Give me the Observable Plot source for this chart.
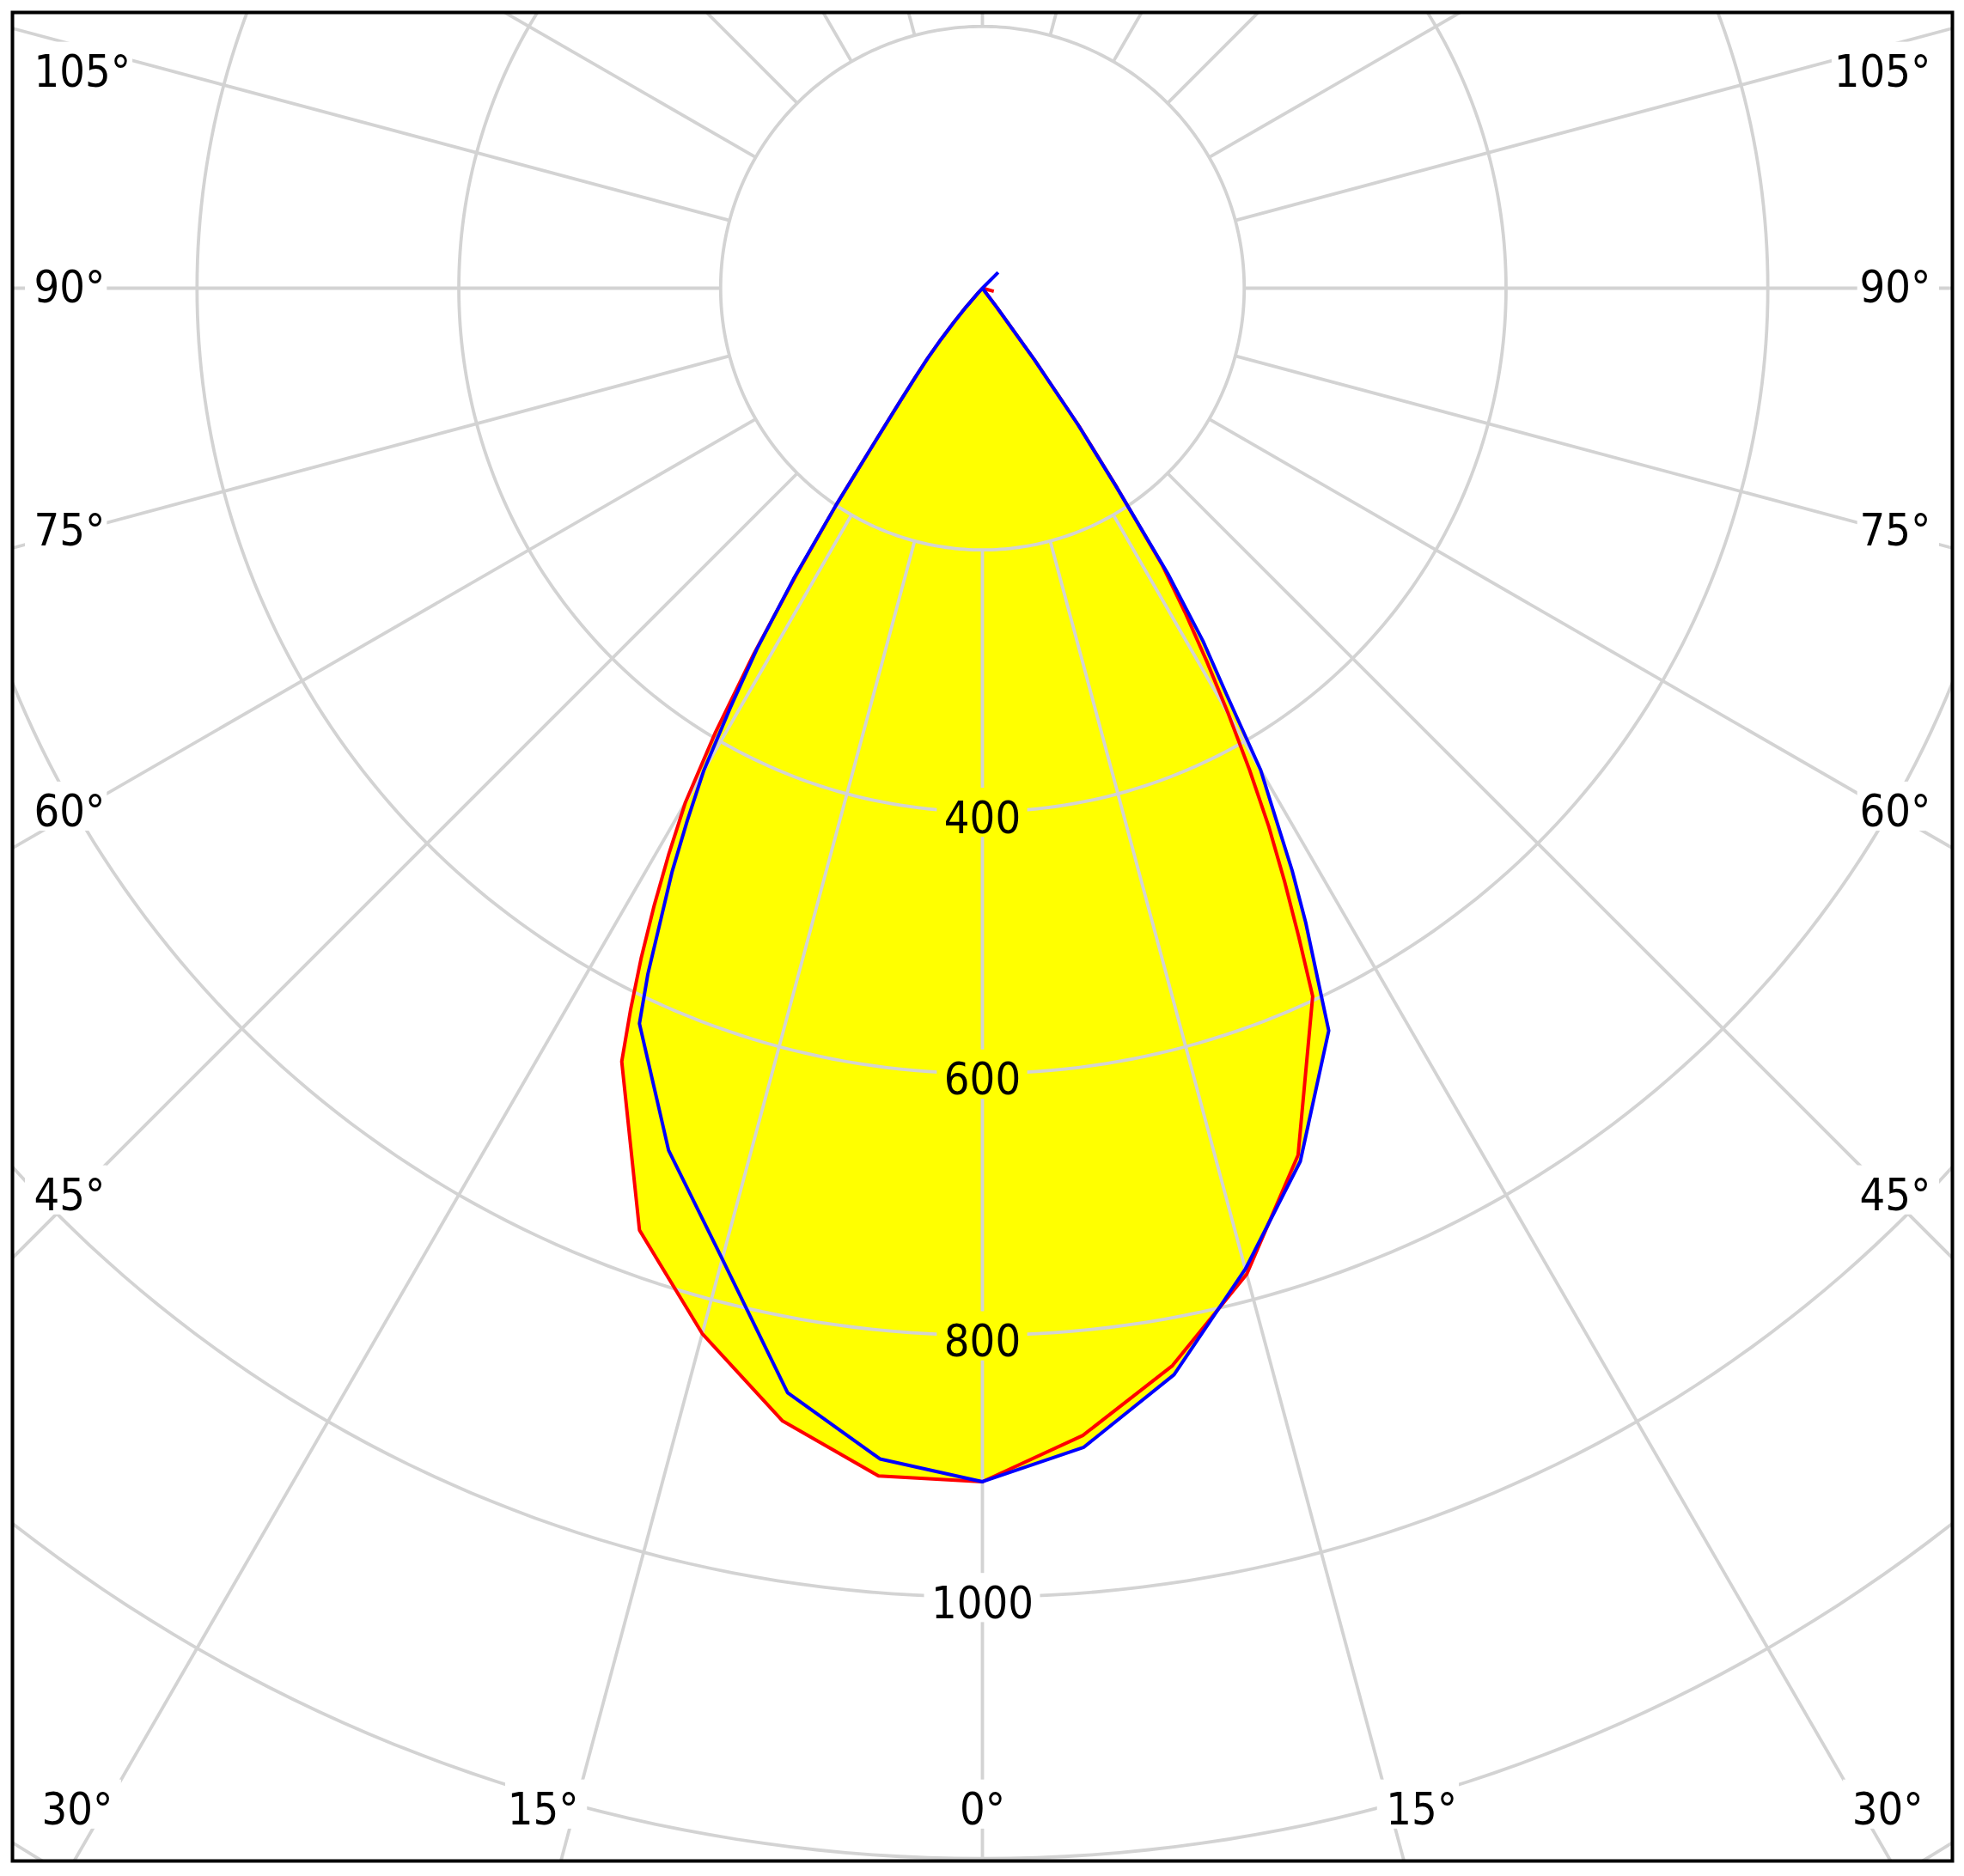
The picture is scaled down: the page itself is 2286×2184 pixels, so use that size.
<!DOCTYPE html>
<html>
<head>
<meta charset="utf-8">
<script src="https://cdn.jsdelivr.net/npm/d3@7"></script>
<script src="https://cdn.jsdelivr.net/npm/@observablehq/plot@0.6"></script>
<style>
  html, body { margin: 0; padding: 0; background: #fff; }
  #chart svg { display: block; }
</style>
</head>
<body>
<div id="chart"></div>
<script>
// ---- Data: luminous intensity (cd) per gamma angle (deg) ----
const gamma = [0,5,10,15,20,25,26,27,28,29,30,31,32,33,34,35,36,37,38,39,40,41,42,43,44,45,
  50,55,60,65,70,75,80,85,90,95,100,105,110,115,120,125,130,135,140,145,150,155,160,165,170,175,180];

// red curve, right half (C0) and left half (C180)
const C0 = [912,880,836,780,705,597,551,508,466,421,376,333,292,252,184,129,67,16,0,0,0,0,0,0,0,0,
  0,0,0,0,0,9,0,0,0,0,0,0,0,0,0,0,0,0,0,0,0,0,0,0,0,0,0];
const C180 = [912,911,879,827,766,652,613,574,534,494,454,396,330,261,200,142,108,85,68,50,34,19,5,0,0,0,
  0,0,0,0,0,0,0,0,0,0,0,0,0,0,0,0,0,0,0,0,0,0,0,0,0,0,0];
// blue curve, right half (C90) and left half (C270)
const C90 = [912,889,843,776,710,626,582,544,504,461,425,362,318,260,182,127,68,19,0,0,0,0,0,0,0,0,
  0,0,0,0,0,0,0,0,0,0,0,0,0,0,0,0,0,17,0,0,0,0,0,0,0,0,0];
const C270 = [912,898,857,768,701,620,583,541,505,465,426,374,325,265,200,142,108,85,68,50,34,19,5,0,0,0,
  0,0,0,0,0,0,0,0,0,0,0,0,0,0,0,0,0,0,0,0,0,0,0,0,0,0,0];

const ringValues = [200,400,600,800,1000,1200,1400];
const ringLabelValues = [400,600,800,1000];
const spokeAngles = d3.range(-165, 181, 15);
const sideLabelAngles = [45,60,75,90,105];
const bottomLabelAngles = [-30,-15,0,15,30];

// ---- Layout ----
const W = 2286, H = 2184;
const mL = 14, mR = 14, mT = 14, mB = 18;
const xDom = [-741, 741];
const yDom = [-210.7, 1201.8];
const k = (W - mL - mR) / (xDom[1] - xDom[0]); // px per cd
const FS = 52;
const FONT = "'DejaVu Sans Condensed', 'Liberation Sans', sans-serif";
const rad = d => d * Math.PI / 180;

function polygon(right, left) {
  const pts = [];
  gamma.forEach((g, i) => pts.push({x: right[i] * Math.sin(rad(g)), y: right[i] * Math.cos(rad(g))}));
  for (let i = gamma.length - 1; i >= 0; i--) {
    const g = gamma[i];
    pts.push({x: -left[i] * Math.sin(rad(g)), y: left[i] * Math.cos(rad(g))});
  }
  return pts;
}
const redPts = polygon(C0, C180);
const bluePts = polygon(C90, C270);

const ringPts = [];
for (const r of ringValues) for (let t = 0; t <= 360; t += 1)
  ringPts.push({r, x: r * Math.sin(rad(t)), y: r * Math.cos(rad(t))});
const spokes = spokeAngles.map(a => ({
  x1: 200 * Math.sin(rad(a)), y1: 200 * Math.cos(rad(a)),
  x2: 1600 * Math.sin(rad(a)), y2: 1600 * Math.cos(rad(a))
}));

// labels
const labels = [];
const xLine = xDom[1] - 72 / k;
for (const a of sideLabelAngles) {
  let y = xLine * Math.cos(rad(a)) / Math.sin(rad(a));
  y = Math.max(y, yDom[0] + 70 / k);
  labels.push({text: a + "°", x: xDom[0] + 25 / k, y, anchor: "start", box: "white"});
  labels.push({text: a + "°", x: xDom[1] - 25 / k, y, anchor: "end", box: "white"});
}
const yLine = yDom[1] - 78 / k;
for (const a of bottomLabelAngles) {
  labels.push({text: Math.abs(a) + "°", x: yLine * Math.tan(rad(a)), y: yDom[1] - 59 / k,
    anchor: a < 0 ? "end" : a > 0 ? "start" : "middle", box: "white"});
}
for (const v of ringLabelValues) {
  labels.push({text: String(v), x: 0, y: v + 8 / k, anchor: "middle", box: v < C0[0] ? "yellow" : "white"});
}
// label boxes (hide grid behind text)
for (const L of labels) {
  let w = 0;
  for (const ch of L.text) w += (ch === "°" ? 0.42 : 0.572) * FS;
  const xp = L.x * k;
  let a0, a1;
  if (L.anchor === "start") { a0 = xp - 10; a1 = xp + w + 4; }
  else if (L.anchor === "end") { a0 = xp - w - 4; a1 = xp + 10; }
  else { a0 = xp - w / 2 - 8; a1 = xp + w / 2 + 8; }
  L.x1 = a0 / k; L.x2 = a1 / k;
  L.y1 = L.y - 0.68 * FS / k; L.y2 = L.y + 0.42 * FS / k;
}

const grey = "#d3d3d3";
const textOpts = anchor => ({
  x: "x", y: "y", text: "text", textAnchor: anchor, lineAnchor: "middle",
  fontSize: FS, fontFamily: FONT, fill: "black"
});

const chart = Plot.plot({
  width: W, height: H,
  marginLeft: mL, marginRight: mR, marginTop: mT, marginBottom: mB,
  x: {domain: xDom, axis: null},
  y: {domain: [yDom[1], yDom[0]], axis: null},
  style: {background: "white", overflow: "visible"},
  marks: [
    Plot.line(redPts, {x: "x", y: "y", fill: "yellow", stroke: "none"}),
    Plot.line(bluePts, {x: "x", y: "y", fill: "yellow", stroke: "none"}),
    Plot.line(ringPts, {x: "x", y: "y", z: "r", stroke: grey, strokeWidth: 3.8, clip: "frame"}),
    Plot.link(spokes, {x1: "x1", y1: "y1", x2: "x2", y2: "y2", stroke: grey, strokeWidth: 3.8, clip: "frame"}),
    Plot.rect(labels.filter(d => d.box === "white"), {x1: "x1", x2: "x2", y1: "y1", y2: "y2", fill: "white"}),
    Plot.rect(labels.filter(d => d.box === "yellow"), {x1: "x1", x2: "x2", y1: "y1", y2: "y2", fill: "yellow"}),
    Plot.line(redPts, {x: "x", y: "y", stroke: "red", strokeWidth: 4, strokeLinejoin: "miter"}),
    Plot.line(bluePts, {x: "x", y: "y", stroke: "blue", strokeWidth: 4, strokeLinejoin: "miter"}),
    Plot.text(labels.filter(d => d.anchor === "start"), textOpts("start")),
    Plot.text(labels.filter(d => d.anchor === "end"), textOpts("end")),
    Plot.text(labels.filter(d => d.anchor === "middle"), textOpts("middle")),
    Plot.frame({stroke: "black", strokeWidth: 4})
  ]
});
document.getElementById("chart").appendChild(chart);
</script>
</body>
</html>
